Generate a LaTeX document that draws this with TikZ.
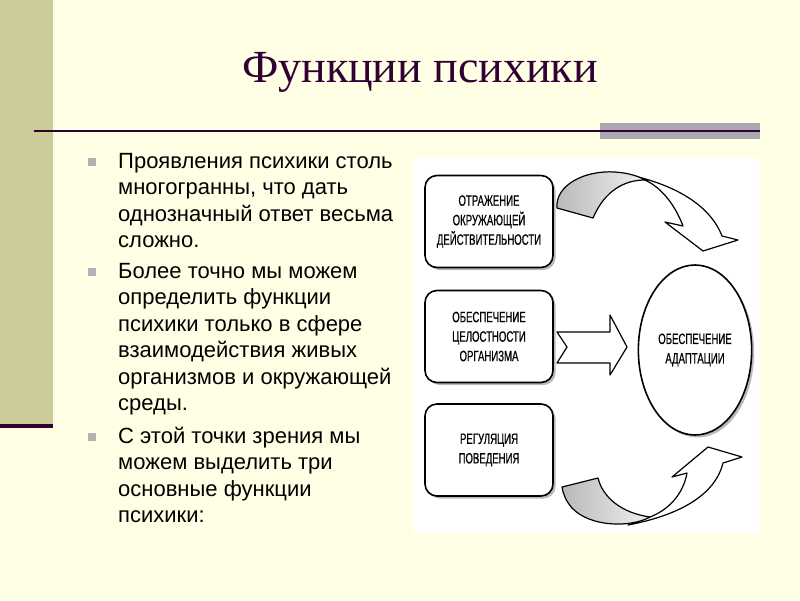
\documentclass[tikz,border=0pt]{standalone}
\usepackage{fontspec}
\setmainfont{Liberation Sans}
\newfontfamily\titlefont{Liberation Serif}
\newfontfamily\boxfont[FakeStretch=0.64,FakeBold=0.6]{Liberation Sans}
\usetikzlibrary{shapes.geometric,shadows}
\definecolor{slidebg}{RGB}{255,255,229}
\definecolor{stripe}{RGB}{204,204,153}
\definecolor{plum}{RGB}{51,0,51}
\definecolor{barbox}{RGB}{170,168,178}
\definecolor{bulletgray}{RGB}{178,178,178}

\begin{document}
\begin{tikzpicture}[x=1pt,y=-1pt,
    funcbox/.style={draw, line width=1.6pt, rounded corners=12pt, fill=white,
        minimum width=128pt, minimum height=92pt, align=center,
        font=\boxfont\fontsize{15}{19.5}\selectfont,
        drop shadow={shadow xshift=2.5pt, shadow yshift=-2.5pt, fill=gray!55, opacity=1}},
    goal/.style={funcbox, ellipse, rounded corners=0pt, minimum width=112pt, minimum height=170pt},
    blockarrow/.style={draw, line width=1.2pt, line join=round, fill=white},
    twist/.style={draw, line width=1.2pt, line join=round, left color=gray!55, right color=gray!12},
    bulletbox/.style={fill=bulletgray, minimum size=8pt, inner sep=0pt},
    line/.style={anchor=base west, inner sep=0pt, font=\fontsize{22}{26.5}\selectfont}]
    \useasboundingbox (0,0) rectangle (800,600);
    \fill[slidebg] (0,0) rectangle (800,600);
    % left stripe and rule
    \fill[stripe] (0,0) rectangle (53,424);
    \fill[plum] (0,424) rectangle (53,428);
    \fill[barbox] (600,123) rectangle (760,139);
    \draw[plum, line width=2pt] (34,130.5) -- (760,130.5);
    % title
    \node[anchor=base, inner sep=0pt, text=plum, font=\titlefont\fontsize{46}{50}\selectfont] (title) at (420,82) {Функции психики};
    % bullets
    \foreach \y [count=\i] in {162, 272, 437} {
        \node[bulletbox] (b\i) at (91.5,\y) {};
    }
    % text lines
    \foreach \y/\t [count=\i] in {168/{Проявления психики столь}, 194.5/{многогранны, что дать},
        221/{однозначный ответ весьма}, 247.5/{сложно.},
        278/{Более точно мы можем}, 304.5/{определить функции}, 331/{психики только в сфере},
        357.5/{взаимодействия живых}, 384/{организмов и окружающей}, 410.5/{среды.},
        443/{С этой точки зрения мы}, 469.5/{можем выделить три}, 496/{основные функции}, 522.5/{психики:}} {
        \node[line] (l\i) at (118,\y) {\t};
    }
    % diagram panel
    \fill[white] (413,158) rectangle (759,533);
    \node[funcbox] (otr) at (489,221.5) {ОТРАЖЕНИЕ\\ОКРУЖАЮЩЕЙ\\ДЕЙСТВИТЕЛЬНОСТИ};
    \node[funcbox] (cel) at (489,336.5) {ОБЕСПЕЧЕНИЕ\\ЦЕЛОСТНОСТИ\\ОРГАНИЗМА};
    \node[funcbox] (reg) at (489,450) {РЕГУЛЯЦИЯ\\ПОВЕДЕНИЯ};
    \node[goal] (adapt) at (695,350) {ОБЕСПЕЧЕНИЕ\\АДАПТАЦИИ};
    % upper curved arrow
    \draw[blockarrow] (630,175) .. controls (675,185) and (710,205) .. (722,236) -- (738,240) -- (703,251)
        -- (665,222) -- (683,226) .. controls (675,205) and (662,188) .. (645,180) -- cycle;
    \draw[twist] (557,208) .. controls (555,185) and (585,170) .. (615,172)
        .. controls (630,173) and (640,177) .. (645,180)
        .. controls (625,180) and (605,190) .. (593,218) -- cycle;
    % middle arrow
    \draw[blockarrow] (557,332) -- (610,332) -- (610,315) -- (627,347) -- (610,375) -- (610,363)
        -- (557,363) -- (567,347) -- cycle;
    % lower curved arrow
    \draw[blockarrow] (628,525) .. controls (680,515) and (715,495) .. (723,463) -- (742,457) -- (708,447)
        -- (672,477) -- (687,473) .. controls (683,495) and (668,510) .. (650,517) -- cycle;
    \draw[twist] (562,487) -- (598,478) .. controls (603,498) and (622,513) .. (650,517)
        .. controls (630,528) and (590,527) .. (572,508) .. controls (566,501) and (563,494) .. cycle;
\end{tikzpicture}
\end{document}
